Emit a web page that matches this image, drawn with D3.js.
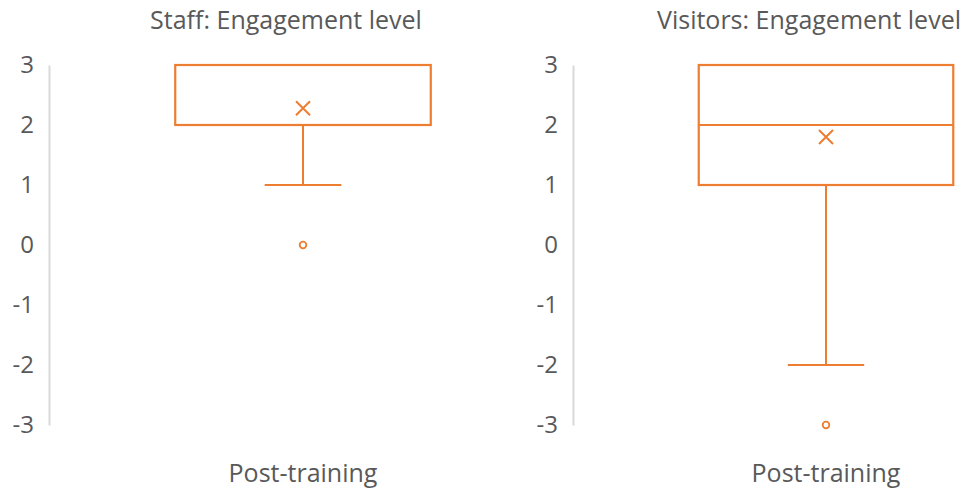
<!DOCTYPE html>
<html>
<head>
<meta charset="utf-8">
<script src="https://cdn.jsdelivr.net/npm/d3@7"></script>
<style>
  body { margin: 0; background: #fff; }
  text { font-family: "Open Sans", sans-serif; fill: #595959; }
</style>
</head>
<body>
<svg id="chart" width="965" height="489"></svg>
<script>
// Data
const panelTitles = ['Staff: Engagement level', 'Visitors: Engagement level'];
const categories = ['Post-training'];
const yTicks = [-3, -2, -1, 0, 1, 2, 3];
const whiskerLow = [1, -2];
const q1 = [2, 1];
const median = [2, 2];
const q3 = [3, 3];
const whiskerHigh = [3, 3];
const means = [2.28, 1.8];
const outliers = [[0], [-3]];

const color = '#ED7D31';
const svg = d3.select('#chart');

// Panel layout: left edge of the plot (axis line) and its width
const panels = [
  { left: 49, width: 508, labelX: 34, titleX: 286 },
  { left: 573, width: 506, labelX: 558, titleX: 809 }
];

const y = d3.scaleLinear().domain([-3, 3]).range([425, 65]);

panels.forEach((p, i) => {
  const g = svg.append('g');

  const x = d3.scaleBand()
    .domain(categories)
    .range([p.left, p.left + p.width])
    .paddingInner(0)
    .paddingOuter(0.494);

  // Title
  g.append('text')
    .attr('x', p.titleX)
    .attr('y', 29)
    .attr('text-anchor', 'middle')
    .attr('font-size', '25px')
    .text(panelTitles[i]);

  // Y axis: vertical rule plus labels
  const axis = g.append('g')
    .attr('transform', `translate(${p.left},0)`)
    .call(d3.axisLeft(y).tickValues(yTicks).tickSize(0)
      .tickPadding(p.left - p.labelX).tickFormat(d => String(d)));
  axis.select('.domain').attr('stroke', '#d9d9d9').attr('stroke-width', 2);
  axis.selectAll('text')
    .attr('font-size', '24px')
    .attr('fill', '#595959')
    .attr('font-family', '"Open Sans", sans-serif');

  // X axis labels
  g.selectAll('.cat')
    .data(categories)
    .enter()
    .append('text')
    .attr('class', 'cat')
    .attr('x', d => x(d) + x.bandwidth() / 2)
    .attr('y', 482)
    .attr('text-anchor', 'middle')
    .attr('font-size', '25px')
    .text(d => d);

  const cat = categories[0];
  const x0 = x(cat);
  const bw = x.bandwidth();
  const cx = x0 + bw / 2;
  const capW = bw * 0.3;

  // Whiskers
  g.append('line')
    .attr('x1', cx).attr('x2', cx)
    .attr('y1', y(q1[i])).attr('y2', y(whiskerLow[i]))
    .attr('stroke', color).attr('stroke-width', 2);
  g.append('line')
    .attr('x1', cx).attr('x2', cx)
    .attr('y1', y(q3[i])).attr('y2', y(whiskerHigh[i]))
    .attr('stroke', color).attr('stroke-width', 2);
  [whiskerLow[i], whiskerHigh[i]].forEach(v => {
    g.append('line')
      .attr('x1', cx - capW / 2).attr('x2', cx + capW / 2)
      .attr('y1', y(v)).attr('y2', y(v))
      .attr('stroke', color).attr('stroke-width', 2);
  });

  // Box
  g.append('rect')
    .attr('x', x0)
    .attr('y', y(q3[i]))
    .attr('width', bw)
    .attr('height', y(q1[i]) - y(q3[i]))
    .attr('fill', 'none')
    .attr('stroke', color)
    .attr('stroke-width', 2.2);

  // Median
  g.append('line')
    .attr('x1', x0).attr('x2', x0 + bw)
    .attr('y1', y(median[i])).attr('y2', y(median[i]))
    .attr('stroke', color).attr('stroke-width', 2.2);

  // Mean marker
  const m = 7;
  g.append('path')
    .attr('d', `M${cx - m},${y(means[i]) - m}L${cx + m},${y(means[i]) + m}M${cx - m},${y(means[i]) + m}L${cx + m},${y(means[i]) - m}`)
    .attr('stroke', color)
    .attr('stroke-width', 2)
    .attr('fill', 'none');

  // Outliers
  g.selectAll('.outlier')
    .data(outliers[i])
    .enter()
    .append('circle')
    .attr('class', 'outlier')
    .attr('cx', cx)
    .attr('cy', d => y(d))
    .attr('r', 3.3)
    .attr('fill', 'none')
    .attr('stroke', color)
    .attr('stroke-width', 1.8);
});
</script>
</body>
</html>
